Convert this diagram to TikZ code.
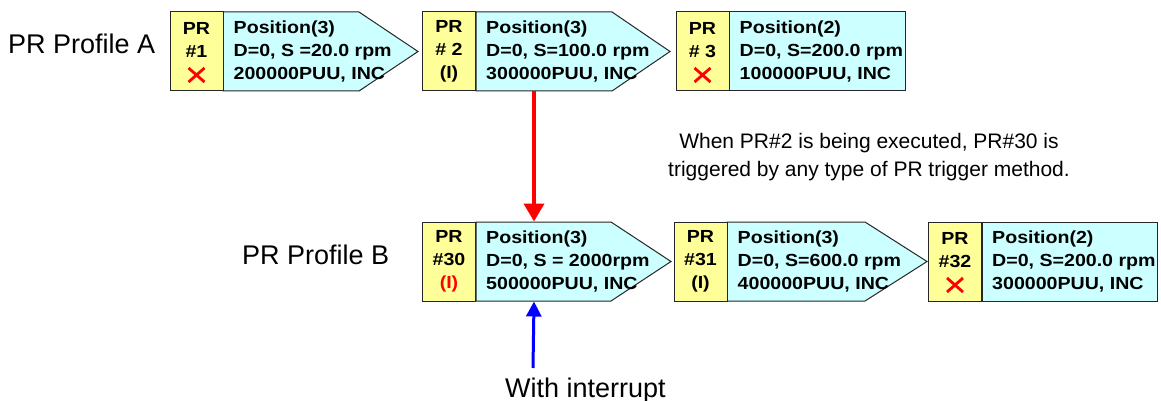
\documentclass[tikz,border=0pt]{standalone}
\usepackage{fontspec}
\setmainfont{Liberation Sans}
\newfontfamily\prfont[FakeStretch=1.12]{Liberation Sans}
\usetikzlibrary{arrows.meta}
\definecolor{prYellow}{RGB}{255,255,153}
\definecolor{prCyan}{RGB}{204,255,255}

\begin{document}
\begin{tikzpicture}[x=1pt,y=-1pt,
    prno/.style={draw=black!85, line width=1pt, fill=prYellow, minimum width=53, minimum height=79, inner sep=0, align=center, font=\prfont\bfseries\fontsize{17.5}{23}\selectfont},
    prinfo/.style={anchor=west, minimum height=79, inner xsep=10, inner ysep=0, align=left, font=\prfont\bfseries\fontsize{17.5}{23}\selectfont},
    prbody/.style={draw=black!85, line width=1pt, fill=prCyan},
    xmark/.style={red, line width=2.8pt},
    lbl/.style={inner sep=0, font=\fontsize{27}{32}\selectfont}]
    \useasboundingbox (0,0) rectangle (1161,401);

    % Profile A
    \node[lbl, anchor=base west] (profA) at (8,54) {PR Profile A};

    \draw[prbody] (223,12) -- (359,12) -- (418,51.5) -- (359,91) -- (223,91) -- cycle;
    \node[prno] (pr1) at (196.5,51.5) {PR\\\#1\\~};
    \node[prinfo] (t1) at (pr1.east) {Position(3)\\D=0, S =20.0 rpm\\200000PUU, INC};
    \draw[xmark] ([shift={(-8,16.5)}]pr1.center) -- ([shift={(8,30.5)}]pr1.center)
                 ([shift={(8,16.5)}]pr1.center) -- ([shift={(-8,30.5)}]pr1.center);

    \draw[prbody] (476,12) -- (612,12) -- (670,51.5) -- (612,91) -- (476,91) -- cycle;
    \node[prno] (pr2) at (449,51.5) {PR\\\# 2\\(I)};
    \node[prinfo] (t2) at (pr2.east) {Position(3)\\D=0, S=100.0 rpm\\300000PUU, INC};

    \draw[prbody] (729,12) rectangle (905,91);
    \node[prno] (pr3) at (702.5,51.5) {PR\\\# 3\\~};
    \node[prinfo] (t3) at (pr3.east) {Position(2)\\D=0, S=200.0 rpm\\100000PUU, INC};
    \draw[xmark] ([shift={(-8,16.5)}]pr3.center) -- ([shift={(8,30.5)}]pr3.center)
                 ([shift={(8,16.5)}]pr3.center) -- ([shift={(-8,30.5)}]pr3.center);

    % note on the trigger
    \node[inner sep=0, align=center, font=\fontsize{21}{28}\selectfont] (note) at (869,157.5)
        {When PR\#2 is being executed, PR\#30 is\\triggered by any type of PR trigger method.};

    % Profile B
    \node[lbl, anchor=base west] (profB) at (242,264) {PR Profile B};

    \draw[prbody] (476,222) -- (611,222) -- (671,261.5) -- (611,301) -- (476,301) -- cycle;
    \node[prno] (pr30) at (449,261.5) {PR\\\#30\\\textcolor{red}{(I)}};
    \node[prinfo] (t30) at (pr30.east) {Position(3)\\D=0, S = 2000rpm\\500000PUU, INC};

    \draw[prbody] (727,222) -- (865,222) -- (927,261.5) -- (865,301) -- (727,301) -- cycle;
    \node[prno] (pr31) at (700.5,261.5) {PR\\\#31\\(I)};
    \node[prinfo] (t31) at (pr31.east) {Position(3)\\D=0, S=600.0 rpm\\400000PUU, INC};

    \draw[prbody] (982,222) rectangle (1157,301);
    \node[prno] (pr32) at (955,261.5) {PR\\\#32\\~};
    \node[prinfo] (t32) at (pr32.east) {Position(2)\\D=0, S=200.0 rpm\\300000PUU, INC};
    \draw[xmark] ([shift={(-8,16.5)}]pr32.center) -- ([shift={(8,30.5)}]pr32.center)
                 ([shift={(8,16.5)}]pr32.center) -- ([shift={(-8,30.5)}]pr32.center);

    % arrows
    \draw[red, line width=4pt, -{Triangle[width=20pt,length=18pt]}]
        ([xshift=58]pr2.south east) -- ([xshift=58]pr30.north east);

    \coordinate (intr) at (533,368);
    \draw[blue, line width=3pt, -{Triangle[width=15pt,length=15pt]}]
        (intr) -- ([xshift=58]pr30.south east);
    \node[lbl, anchor=base west] (wint) at (505,397) {With interrupt};
\end{tikzpicture}
\end{document}
